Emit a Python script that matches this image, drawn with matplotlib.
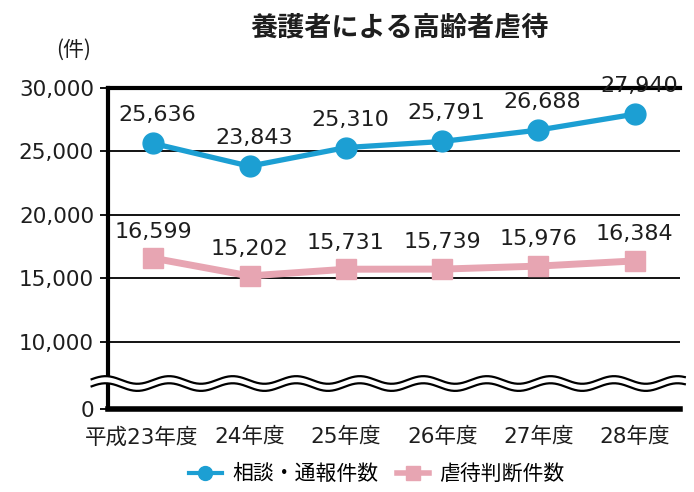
import numpy as np
import matplotlib
matplotlib.use("Agg")
import matplotlib.pyplot as plt
import matplotlib.transforms as mtransforms
from matplotlib.lines import Line2D

plt.rcParams['font.family'] = ['DejaVu Sans', 'Noto Sans CJK JP']

categories = ["平成23年度", "24年度", "25年度", "26年度", "27年度", "28年度"]
consult = [25636, 23843, 25310, 25791, 26688, 27940]
judged = [16599, 15202, 15731, 15739, 15976, 16384]
ytick_values = [10000, 15000, 20000, 25000, 30000]
title = "養護者による高齢者虐待"
unit = "(件)"
series_names = ["相談・通報件数", "虐待判断件数"]

CYAN = "#1c9fd3"
PINK = "#e7a5b2"
TXT = "#1e1e1e"

fig = plt.figure(figsize=(6.94, 4.92), dpi=100)
ax = fig.add_axes([108/694, 1-409/492, (680-108)/694, (409-88)/492])

x = np.arange(len(categories))
ymin = 4724
ax.set_xlim(-0.47, len(categories) - 1 + 0.47)
ax.set_ylim(ymin, 30000)

# gridlines
for v in ytick_values[:-1]:
    ax.axhline(v, color="black", lw=1.3, zorder=1)
ax.axhline(30000, color="black", lw=3, zorder=1, clip_on=False)

ax.plot(x, consult, color=CYAN, lw=3.8, marker="o", markersize=15, zorder=4, clip_on=False)
ax.plot(x, judged, color=PINK, lw=5, marker="s", markersize=14, zorder=3, clip_on=False)

for xi, v in zip(x, consult):
    ax.annotate(f"{v:,}", (xi, v), xytext=(3, 13), textcoords="offset points",
                ha="center", va="bottom", fontsize=16, color=TXT, zorder=6)
for xi, v in zip(x, judged):
    ax.annotate(f"{v:,}", (xi, v), xytext=(0, 12), textcoords="offset points",
                ha="center", va="bottom", fontsize=16, color=TXT, zorder=6)

# spines
for s in ["top", "right"]:
    ax.spines[s].set_visible(False)
ax.spines["left"].set_linewidth(3)
ax.spines["bottom"].set_linewidth(4)

ax.set_yticks([ymin] + ytick_values)
ax.set_yticklabels(["0"] + [f"{v:,}" for v in ytick_values], fontsize=15.5, color=TXT)
ax.tick_params(axis="y", length=6, width=1.3, pad=4)
ax.set_xticks(x)
ax.set_xticklabels(categories, fontsize=15.5, color=TXT)
ax.tick_params(axis="x", length=0, pad=13)
first = ax.get_xticklabels()[0]
first.set_transform(first.get_transform() +
                    mtransforms.ScaledTranslation(-12/100, 0, fig.dpi_scale_trans))

# axis break waves
period = 0.66
xs = np.linspace(-0.64, 5.52, 600)
amp = 300
center = 6730
sep = 560
w1 = center + sep/2 + amp*np.sin(2*np.pi*xs/period)
w2 = center - sep/2 + amp*np.sin(2*np.pi*xs/period)
ax.fill_between(xs, w2, w1, color="white", zorder=5, clip_on=False, lw=0)
ax.plot(xs, w1, color="black", lw=1.6, zorder=6, clip_on=False)
ax.plot(xs, w2, color="black", lw=1.6, zorder=6, clip_on=False)

fig.text(400/694, 1-28/492, title, ha="center", va="center", fontsize=19.5,
         fontweight="bold", family=["Noto Sans CJK JP"], color=TXT)
fig.text(74/694, 1-50/492, unit, ha="center", va="center", fontsize=15,
         family=["Noto Sans CJK JP"], color=TXT)

handles = [Line2D([], [], color=CYAN, lw=3, marker="o", markersize=10),
           Line2D([], [], color=PINK, lw=4, marker="s", markersize=10)]
fig.legend(handles, series_names, loc="center", bbox_to_anchor=(377/694, 1-474/492),
           ncol=2, frameon=False, handlelength=1.55, columnspacing=0.9,
           handletextpad=0.5, prop=dict(family=["Noto Sans CJK JP"], size=15))

fig.savefig("out.png", dpi=100)
